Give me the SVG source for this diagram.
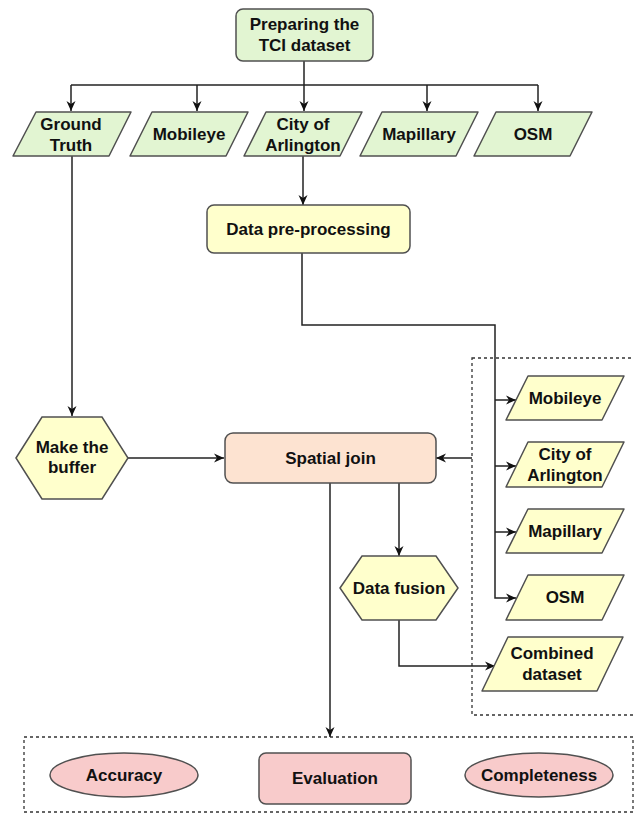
<svg xmlns="http://www.w3.org/2000/svg" width="634" height="815" viewBox="0 0 634 815">
<defs>
<style>
.t{font-family:"Liberation Sans",Arial,sans-serif;font-weight:bold;font-size:17px;fill:#111;text-anchor:middle}
.g{fill:#e2f5d2;stroke:#505050;stroke-width:1.5}
.y{fill:#ffffcc;stroke:#505050;stroke-width:1.5}
.o{fill:#fde3d1;stroke:#505050;stroke-width:1.5}
.p{fill:#f8cbcb;stroke:#505050;stroke-width:1.5}
.c{fill:none;stroke:#222;stroke-width:1.5}
.d{fill:none;stroke:#333;stroke-width:1.3;stroke-dasharray:3,3}
</style>
<marker id="arr" markerWidth="11" markerHeight="10" refX="10" refY="5" orient="auto" markerUnits="userSpaceOnUse">
<path d="M0,0.5 L10,5 L0,9.5 L3,5 Z" fill="#111"/>
</marker>
</defs>
<rect width="634" height="815" fill="#fff"/>

<g id="groups">
<rect class="d" x="472" y="358" width="175" height="357"/>
<rect class="d" x="24" y="737" width="609" height="75"/>
</g>

<g id="connectors">
<path class="c" d="M71,85 H538"/>
<path class="c" d="M304,61 V111" marker-end="url(#arr)"/>
<path class="c" d="M71,85 V111" marker-end="url(#arr)"/>
<path class="c" d="M197,85 V111" marker-end="url(#arr)"/>
<path class="c" d="M427,85 V111" marker-end="url(#arr)"/>
<path class="c" d="M538,85 V111" marker-end="url(#arr)"/>
<path class="c" d="M72,156 V416" marker-end="url(#arr)"/>
<path class="c" d="M303,156 V205" marker-end="url(#arr)"/>
<path class="c" d="M302,253 V325 H495 V598 H516" stroke-width="2" marker-end="url(#arr)"/>
<path class="c" d="M495,400 H516" marker-end="url(#arr)"/>
<path class="c" d="M495,466 H516" marker-end="url(#arr)"/>
<path class="c" d="M495,532 H516" marker-end="url(#arr)"/>
<path class="c" d="M472,458 H436" marker-end="url(#arr)"/>
<path class="c" d="M128,458 H224" marker-end="url(#arr)"/>
<path class="c" d="M399,483 V556" marker-end="url(#arr)"/>
<path class="c" d="M399,620 V666 H495" marker-end="url(#arr)"/>
<path class="c" d="M330,483 V737" marker-end="url(#arr)"/>
</g>

<g id="prepare">
<rect class="g" x="236" y="9" width="137" height="52" rx="7"/>
<text class="t" x="304.5" y="30">Preparing the</text>
<text class="t" x="304.5" y="51">TCI dataset</text>
</g>

<g id="gt">
<path class="g" d="M36,112 H131 L109,156 H13 Z" stroke-linejoin="round"/>
<text class="t" x="71" y="130">Ground</text>
<text class="t" x="71" y="151">Truth</text>
</g>
<g id="mobileye1">
<path class="g" d="M152,112 H248 L226,156 H130 Z" stroke-linejoin="round"/>
<text class="t" x="189" y="140">Mobileye</text>
</g>
<g id="city1">
<path class="g" d="M266,112 H362 L340,156 H244 Z" stroke-linejoin="round"/>
<text class="t" x="303" y="130">City of</text>
<text class="t" x="303" y="151">Arlington</text>
</g>
<g id="mapillary1">
<path class="g" d="M382,112 H478 L456,156 H360 Z" stroke-linejoin="round"/>
<text class="t" x="419" y="140">Mapillary</text>
</g>
<g id="osm1">
<path class="g" d="M496,112 H592 L570,156 H474 Z" stroke-linejoin="round"/>
<text class="t" x="533" y="140">OSM</text>
</g>

<g id="preprocess">
<rect class="y" x="207" y="205" width="203" height="48" rx="7"/>
<text class="t" x="308.5" y="235">Data pre-processing</text>
</g>

<g id="buffer">
<path class="y" d="M16,458 L42,417 H102 L128,458 L102,499 H42 Z"/>
<text class="t" x="72" y="453">Make the</text>
<text class="t" x="72" y="473">buffer</text>
</g>

<g id="spatialjoin">
<rect class="o" x="225" y="433" width="211" height="50" rx="8"/>
<text class="t" x="330.5" y="464">Spatial join</text>
</g>

<g id="fusion">
<path class="y" d="M340,588 L362,556 H436 L458,588 L436,620 H362 Z"/>
<text class="t" x="399" y="594">Data fusion</text>
</g>

<g id="mobileye2">
<path class="y" d="M528,376 H624 L602,420 H506 Z" stroke-linejoin="round"/>
<text class="t" x="565" y="404">Mobileye</text>
</g>
<g id="city2">
<path class="y" d="M528,442 H624 L602,487 H506 Z" stroke-linejoin="round"/>
<text class="t" x="565" y="460">City of</text>
<text class="t" x="565" y="481">Arlington</text>
</g>
<g id="mapillary2">
<path class="y" d="M528,509 H624 L602,553 H506 Z" stroke-linejoin="round"/>
<text class="t" x="565" y="537">Mapillary</text>
</g>
<g id="osm2">
<path class="y" d="M528,575 H624 L602,620 H506 Z" stroke-linejoin="round"/>
<text class="t" x="565" y="603">OSM</text>
</g>
<g id="combined">
<path class="y" d="M508,637 H623 L597,691 H482 Z" stroke-linejoin="round"/>
<text class="t" x="552" y="659">Combined</text>
<text class="t" x="552" y="680">dataset</text>
</g>

<g id="accuracy">
<ellipse class="p" cx="124" cy="775" rx="74" ry="22"/>
<text class="t" x="124" y="781">Accuracy</text>
</g>
<g id="evaluation">
<rect class="p" x="259" y="753" width="152" height="51" rx="7"/>
<text class="t" x="335" y="784">Evaluation</text>
</g>
<g id="completeness">
<ellipse class="p" cx="539" cy="775" rx="74" ry="22"/>
<text class="t" x="539" y="781">Completeness</text>
</g>
</svg>
